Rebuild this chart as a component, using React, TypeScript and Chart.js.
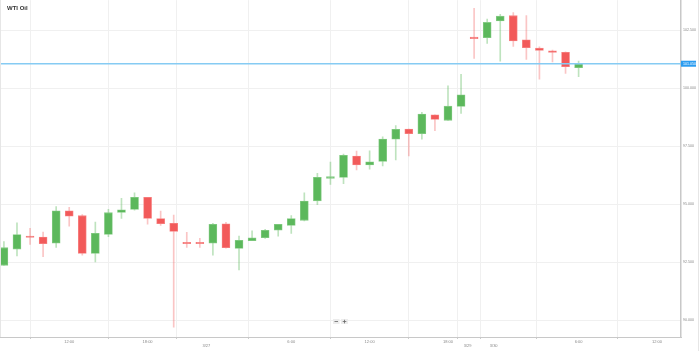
import React, { useEffect, useRef } from 'react';
import { Chart, registerables } from 'chart.js';
Chart.register(...registerables);

const opens = [92.36, 93.06, 93.59, 93.58, 93.31, 94.71, 94.50, 92.87, 93.69, 94.64, 94.77, 95.29, 94.38, 94.17, 93.35, 93.32, 93.31, 94.15, 93.09, 93.42, 93.55, 93.87, 94.08, 94.30, 95.14, 96.11, 96.15, 97.07, 96.69, 96.84, 97.80, 98.23, 98.03, 98.85, 98.61, 99.21, 102.18, 102.17, 102.89, 103.12, 102.08, 101.72, 101.61, 101.54, 100.88];
const highs = [93.38, 94.19, 93.95, 93.79, 94.89, 94.86, 94.55, 94.22, 94.77, 95.25, 95.49, 95.29, 94.70, 94.53, 93.78, 93.52, 94.17, 94.21, 93.62, 93.85, 93.91, 94.13, 94.50, 95.49, 96.32, 96.81, 97.16, 97.28, 97.30, 97.90, 98.38, 98.23, 98.95, 98.85, 100.10, 100.59, 103.44, 102.97, 103.18, 103.26, 103.12, 101.78, 101.64, 101.56, 101.16];
const lows = [92.36, 92.77, 93.26, 92.73, 93.13, 94.05, 92.80, 92.51, 93.59, 94.38, 94.74, 94.13, 94.08, 89.69, 93.13, 93.13, 92.80, 93.10, 92.16, 93.42, 93.52, 93.62, 93.74, 94.27, 94.97, 95.85, 95.88, 96.47, 96.50, 96.64, 96.90, 97.08, 97.80, 98.16, 98.61, 98.91, 101.28, 101.93, 101.16, 101.80, 101.24, 100.38, 101.13, 100.63, 100.49];
const closes = [93.12, 93.69, 93.56, 93.29, 94.71, 94.48, 92.87, 93.74, 94.63, 94.75, 95.29, 94.38, 94.15, 93.82, 93.29, 93.29, 94.13, 93.12, 93.44, 93.55, 93.87, 94.13, 94.38, 95.13, 96.15, 96.18, 97.10, 96.69, 96.82, 97.80, 98.22, 98.03, 98.88, 98.65, 99.22, 99.71, 102.13, 102.83, 103.10, 102.03, 101.74, 101.62, 101.54, 100.92, 101.05];

const xTickPos = [5, 11, 15.5, 22, 28, 34, 35.5, 37.5, 44, 50];
const xTickLabels = ['12:00', '18:00', '3/27', '6:00', '12:00', '18:00', '3/29', '3/30', '6:00', '12:00'];
const yTicks = [90, 92.5, 95, 97.5, 100, 102.5];
const currentPrice = 101.05;
const currentLabel = '101.050';
const title = 'WTI Oil';

const GREEN = '#5cb85c';
const RED = '#f25a5a';
const SHIFT = 4; // canvas drawn 4px higher so the plot area starts at the page top

export default function App() {
  const ref = useRef<HTMLCanvasElement>(null);
  useEffect(() => {
    document.body.style.margin = '0';
    const up = (i: number) => closes[i] >= opens[i];
    const bodies = opens.map((o, i) => ({ x: i, y: [o, closes[i]] }));
    const wicks = lows.map((l, i) => ({ x: i, y: [l, highs[i]] }));

    const overlay = {
      id: 'overlay',
      afterDatasetsDraw(chart: any) {
        const { ctx, chartArea, scales } = chart;
        const y = scales.y.getPixelForValue(currentPrice);
        ctx.save();
        ctx.strokeStyle = '#86cbf3';
        ctx.lineWidth = 1.4;
        ctx.beginPath();
        ctx.moveTo(chartArea.left, y);
        ctx.lineTo(chartArea.right, y);
        ctx.stroke();
        ctx.fillStyle = '#2b9cf0';
        ctx.fillRect(chartArea.right, y - 3, 15, 6);
        ctx.fillStyle = '#ffffff';
        ctx.font = '3.6px "Liberation Sans", Arial, sans-serif';
        ctx.textBaseline = 'middle';
        ctx.textAlign = 'left';
        ctx.fillText(currentLabel, chartArea.right + 2, y);
        // title
        ctx.fillStyle = '#333';
        ctx.font = 'bold 6px "Liberation Sans", Arial, sans-serif';
        ctx.textBaseline = 'middle';
        ctx.fillText(title, 7, 8 + SHIFT);
        // zoom buttons
        const by = 319 + SHIFT;
        ctx.fillStyle = '#ececec';
        ctx.fillRect(333, by, 6.5, 5);
        ctx.fillRect(341, by, 7, 5);
        ctx.fillStyle = '#666';
        ctx.fillRect(334.5, by + 2.2, 3.5, 0.8);
        ctx.fillRect(342.7, by + 2.2, 3.6, 0.8);
        ctx.fillRect(344.1, by + 0.8, 0.8, 3.6);
        // edges
        ctx.strokeStyle = '#e6e6e6';
        ctx.lineWidth = 1;
        ctx.beginPath();
        ctx.moveTo(0.5, 0);
        ctx.lineTo(0.5, chartArea.bottom);
        ctx.moveTo(698.5, 0);
        ctx.lineTo(698.5, 360);
        ctx.stroke();
        ctx.restore();
      },
    };

    const chart = new Chart(ref.current as HTMLCanvasElement, {
      type: 'bar',
      data: {
        datasets: [
          {
            data: wicks as any,
            barThickness: 1,
            grouped: false,
            order: 2,
            backgroundColor: (c: any) => (up(c.dataIndex) ? 'rgba(92,184,92,0.4)' : 'rgba(242,90,90,0.35)'),
          } as any,
          {
            data: bodies as any,
            barThickness: 8,
            grouped: false,
            order: 1,
            minBarLength: 1.5,
            borderWidth: 0.8,
            borderSkipped: false,
            backgroundColor: (c: any) => (up(c.dataIndex) ? GREEN : RED),
            borderColor: (c: any) => (up(c.dataIndex) ? '#86cc86' : '#f78585'),
          } as any,
        ],
      },
      options: {
        animation: false,
        responsive: false,
        maintainAspectRatio: false,
        layout: { padding: 0 },
        plugins: { legend: { display: false }, tooltip: { enabled: false } },
        scales: {
          x: {
            type: 'linear',
            min: -0.3,
            max: 51.84,
            offset: false,
            afterFit: (s: any) => { s.height = 14; },
            afterBuildTicks: (s: any) => { s.ticks = xTickPos.map((v) => ({ value: v })); },
            grid: { color: '#f0f0f0', tickLength: 2, tickColor: '#ccc' },
            border: { color: '#c8c8c8', width: 1 },
            ticks: {
              autoSkip: false,
              maxRotation: 0,
              padding: 0,
              color: '#888',
              font: { size: 4, family: '"Liberation Sans", Arial, sans-serif' },
              callback: (v: any) => {
                const i = xTickPos.indexOf(Number(v));
                const l = i >= 0 ? xTickLabels[i] : '';
                return l.includes('/') ? ['', l] : l;
              },
            },
          },
          y: {
            position: 'right',
            min: 89.27,
            max: 103.79,
            afterFit: (s: any) => { s.width = 18; },
            afterBuildTicks: (s: any) => { s.ticks = yTicks.map((v) => ({ value: v })); },
            grid: { color: '#f0f0f0', drawTicks: false },
            border: { color: '#c8c8c8', width: 1.5 },
            ticks: {
              padding: 2,
              color: '#888',
              font: { size: 3.6, family: '"Liberation Sans", Arial, sans-serif' },
              callback: (v: any) => Number(v).toFixed(3),
            },
          },
        },
      } as any,
      plugins: [overlay],
    });
    return () => chart.destroy();
  }, []);
  return (
    <div style={{ width: 699, height: 351, position: 'relative', overflow: 'hidden', background: '#fff' }}>
      <canvas
        ref={ref}
        width={699}
        height={351 + SHIFT}
        style={{ display: 'block', position: 'absolute', left: 0, top: -SHIFT }}
      />
    </div>
  );
}
